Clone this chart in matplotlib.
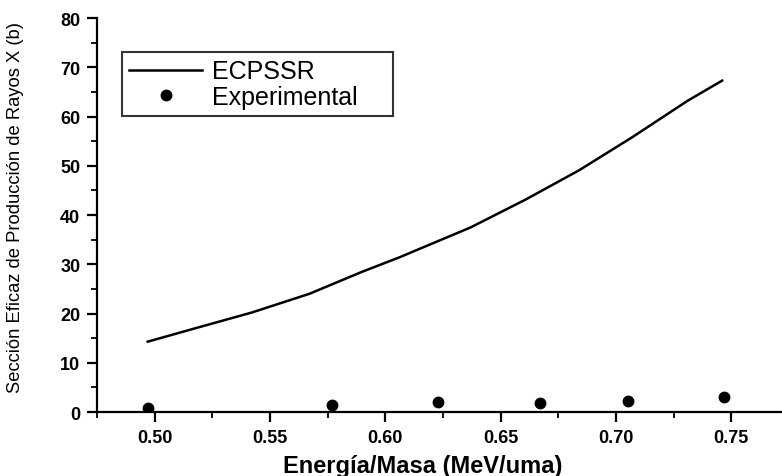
import matplotlib.pyplot as plt
from matplotlib.ticker import MultipleLocator

plt.rcParams['font.family'] = ['Liberation Sans', 'DejaVu Sans']

# ECPSSR theoretical curve
ecpssr_x = [0.497, 0.519, 0.542, 0.567, 0.590, 0.606, 0.637, 0.661, 0.684, 0.707, 0.731, 0.746]
ecpssr_y = [14.3, 17.2, 20.2, 24.0, 28.5, 31.4, 37.5, 43.2, 49.1, 55.8, 63.2, 67.3]

# experimental points
exp_x = [0.497, 0.577, 0.623, 0.667, 0.705, 0.747]
exp_y = [0.8, 1.4, 2.0, 1.8, 2.3, 3.0]

fig = plt.figure(figsize=(7.82, 4.77), dpi=100)
ax = fig.add_axes([0.124, 0.134, 0.885, 0.826])

ax.plot(ecpssr_x, ecpssr_y, color="black", lw=1.8, label="ECPSSR")
ax.plot(exp_x, exp_y, "o", color="black", ms=7.5, label="Experimental    ")

ax.set_xlim(0.475, 0.775)
ax.set_ylim(0, 80)
ax.xaxis.set_major_locator(MultipleLocator(0.05))
ax.xaxis.set_minor_locator(MultipleLocator(0.025))
ax.yaxis.set_major_locator(MultipleLocator(10))
ax.yaxis.set_minor_locator(MultipleLocator(5))
ax.xaxis.set_major_formatter(plt.FormatStrFormatter("%.2f"))

for s in ["top", "right"]:
    ax.spines[s].set_visible(False)
for s in ["left", "bottom"]:
    ax.spines[s].set_linewidth(1.6)

ax.tick_params(which="major", direction="out", length=7, width=1.6, labelsize=13, pad=5)
ax.tick_params(which="minor", direction="out", length=4, width=1.3)
for lab in ax.get_xticklabels() + ax.get_yticklabels():
    lab.set_fontweight("bold")

ax.set_xlabel("Energía/Masa (MeV/uma)", fontsize=17, fontweight="bold")
ax.xaxis.set_label_coords(0.47, -0.135)
ax.xaxis.label.set_va("center")
ax.set_ylabel("Sección Eficaz de Producción de Rayos X (b)", fontsize=13.2)
ax.yaxis.set_label_coords(-0.117, 0.523)
ax.yaxis.label.set_va("center")

leg = ax.legend(loc="upper left", bbox_to_anchor=(0.036, 0.914), fontsize=18,
                handlelength=2.9, frameon=True, fancybox=False, borderpad=0.3,
                labelspacing=0.05, handletextpad=0.4, borderaxespad=0)
leg.get_frame().set_edgecolor("black")
leg.get_frame().set_linewidth(1.5)

fig.savefig("out.png", dpi=100)
